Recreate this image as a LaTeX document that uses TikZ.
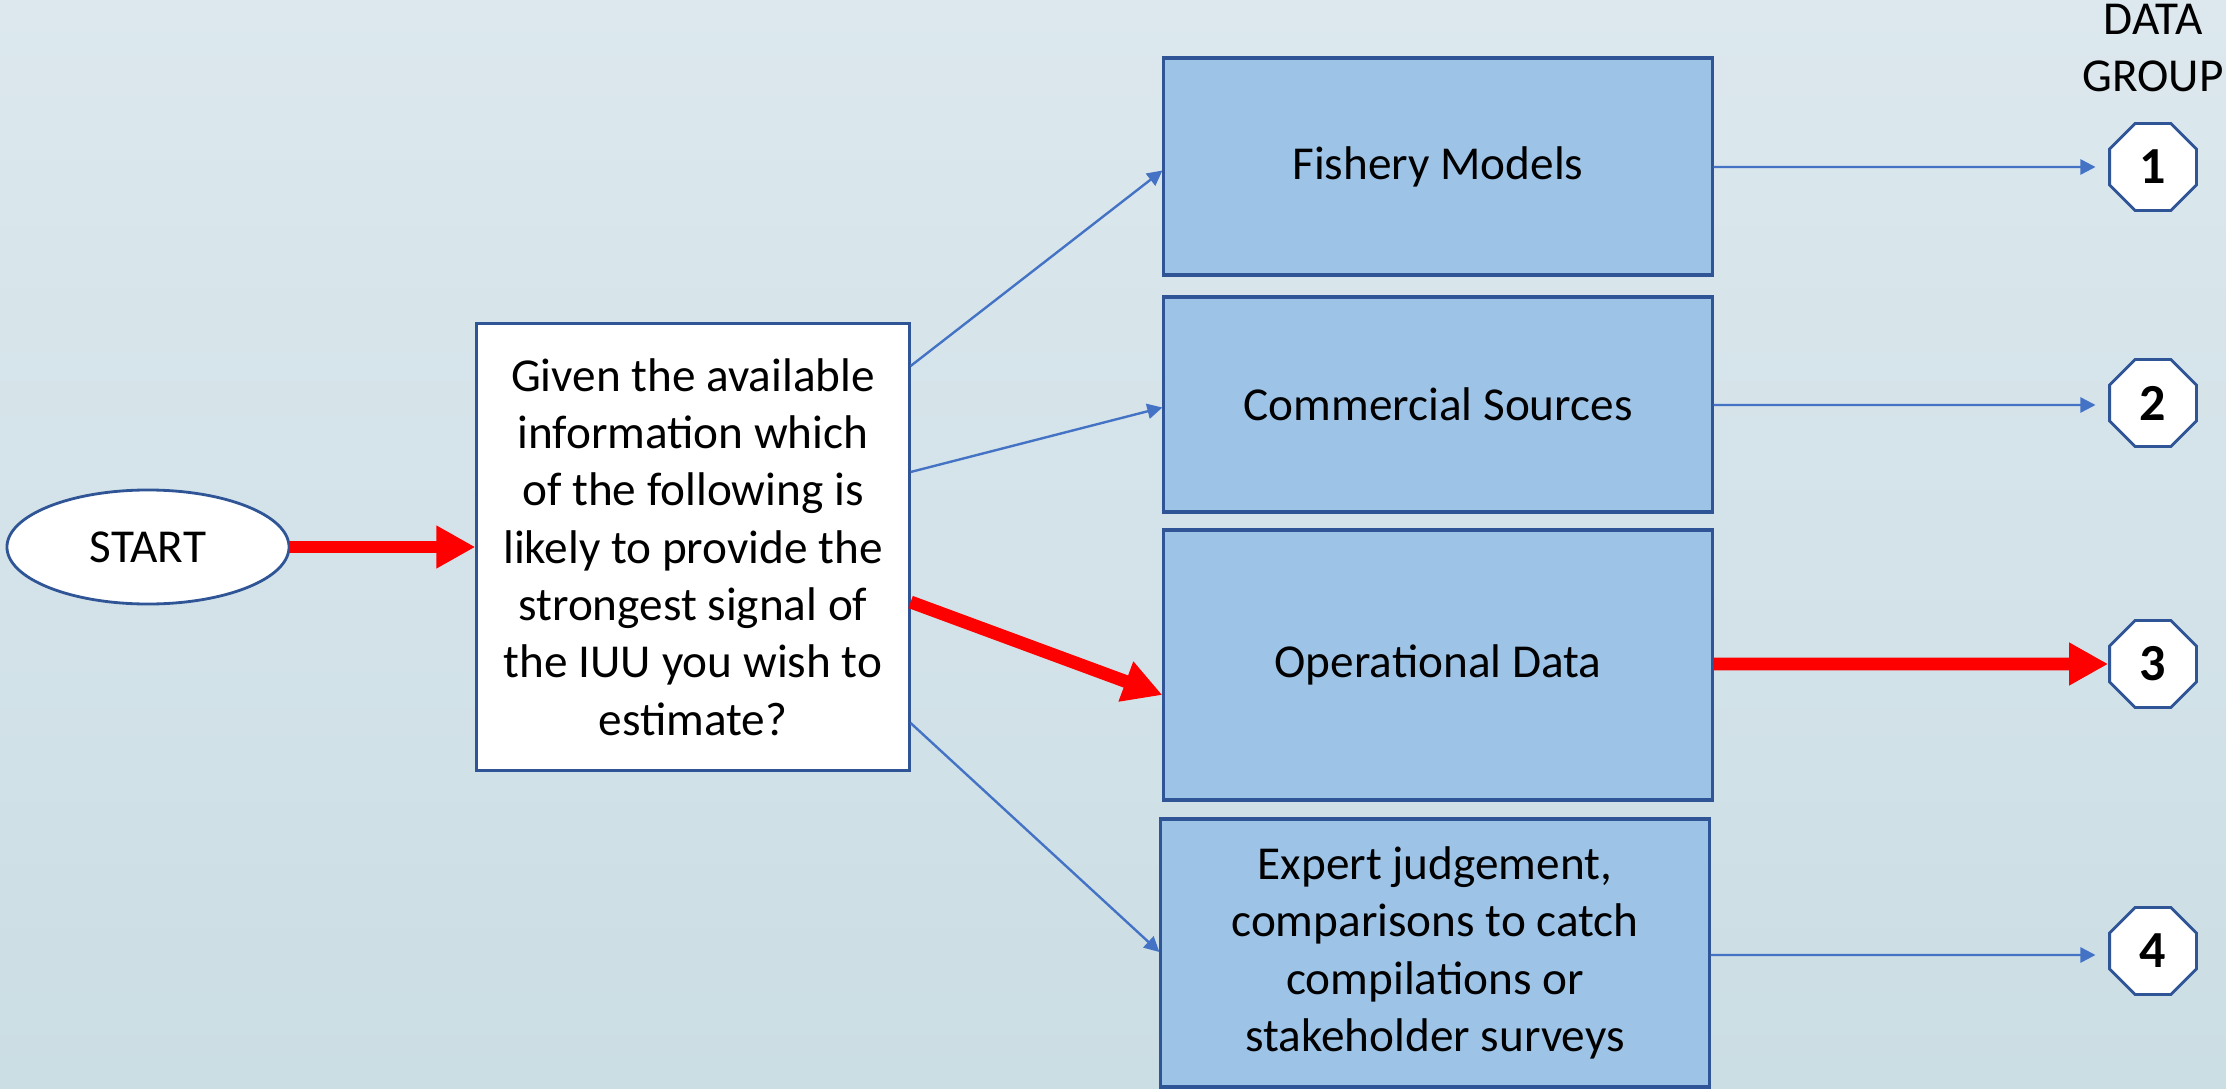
\documentclass[tikz,border=0pt]{standalone}
\usepackage{fontspec}
\setmainfont{Carlito}
\usetikzlibrary{arrows.meta,shapes.geometric,calc}
\definecolor{bgtop}{HTML}{DCE8EE}
\definecolor{bgbot}{HTML}{CBDEE4}
\definecolor{boxfill}{HTML}{9DC3E6}
\definecolor{boxline}{HTML}{2F5597}
\definecolor{arrblue}{HTML}{4472C4}
\definecolor{arrred}{HTML}{FF0000}
\begin{document}
\begin{tikzpicture}[x=0.025cm,y=-0.025cm,
  txt/.style={font=\fontsize{33.6}{40.8}\selectfont, align=center, text=black},
  optbox/.style={txt, draw=boxline, fill=boxfill, line width=2.2pt, minimum width=13.7cm, inner sep=0pt},
  qbox/.style={txt, draw=boxline, fill=white, line width=2.2pt, minimum width=10.8cm, minimum height=11.15cm, inner sep=0pt},
  startnode/.style={txt, ellipse, draw=boxline, fill=white, line width=2pt, minimum width=7.05cm, minimum height=2.85cm, inner sep=0pt},
  octnode/.style={regular polygon, regular polygon sides=8, draw=boxline, fill=white, line width=2pt, minimum size=2.35cm, inner sep=0pt, font=\fontsize{37}{44}\selectfont\bfseries},
  bluearr/.style={draw=arrblue, line width=1.7pt, -{Triangle[length=10.7pt,width=10.7pt]}},
  redarr/.style={draw=arrred, line width=9.2pt, -{Triangle[length=27.7pt,width=28.5pt]}}
]
\fill[top color=bgtop, bottom color=bgbot] (0,0) rectangle (2226,1089);
\useasboundingbox (0,0) rectangle (2226,1089);

\node[startnode] (st) at (148,547) {START};
\node[qbox] (q) at (693,547) {Given the available\\information which\\of the following is\\likely to provide the\\strongest signal of\\the IUU you wish to\\estimate?};

\node[optbox, minimum height=5.425cm] (fm) at (1438,166.5) {Fishery Models};
\node[optbox, minimum height=5.375cm] (cs) at (1438,404.5) {Commercial Sources};
\node[optbox, minimum height=6.75cm] (od) at (1438,665) {Operational Data};
\node[optbox, minimum height=6.7cm] (ex) at (1435,953) {Expert judgement,\\comparisons to catch\\compilations or\\stakeholder surveys};

\node[octnode] (g1) at (2153,167) {1};
\node[octnode] (g2) at (2153,403) {2};
\node[octnode] (g3) at (2153,664) {3};
\node[octnode] (g4) at (2153,951) {4};

\node[txt, anchor=base, inner sep=0pt] (dlab) at (2153,35) {DATA};
\node[txt, anchor=base, inner sep=0pt] (glab) at (2153,92) {GROUP};

\draw[redarr] (st.east) -- (q.west);
\draw[bluearr] ($(q.east)+(0,-181)$) -- ($(fm.west)+(0,4)$);
\draw[bluearr] ($(q.east)+(0,-75)$) -- ($(cs.west)+(0,3)$);
\draw[redarr] ($(q.east)+(0,55)$) -- ($(od.west)+(0,30)$);
\draw[bluearr] ($(q.east)+(0,176)$) -- ($(ex.west)+(0,-1)$);

\draw[bluearr, shorten >=9pt] (fm.east |- g1) -- (g1.west);
\draw[bluearr, shorten >=9pt] ($(cs.east |- g2)+(0,2)$) -- ($(g2.west)+(0,2)$);
\draw[redarr] (od.east |- g3) -- (g3.west);
\draw[bluearr, shorten >=9pt] ($(ex.east |- g4)+(0,4)$) -- ($(g4.west)+(0,4)$);
\end{tikzpicture}
\end{document}
